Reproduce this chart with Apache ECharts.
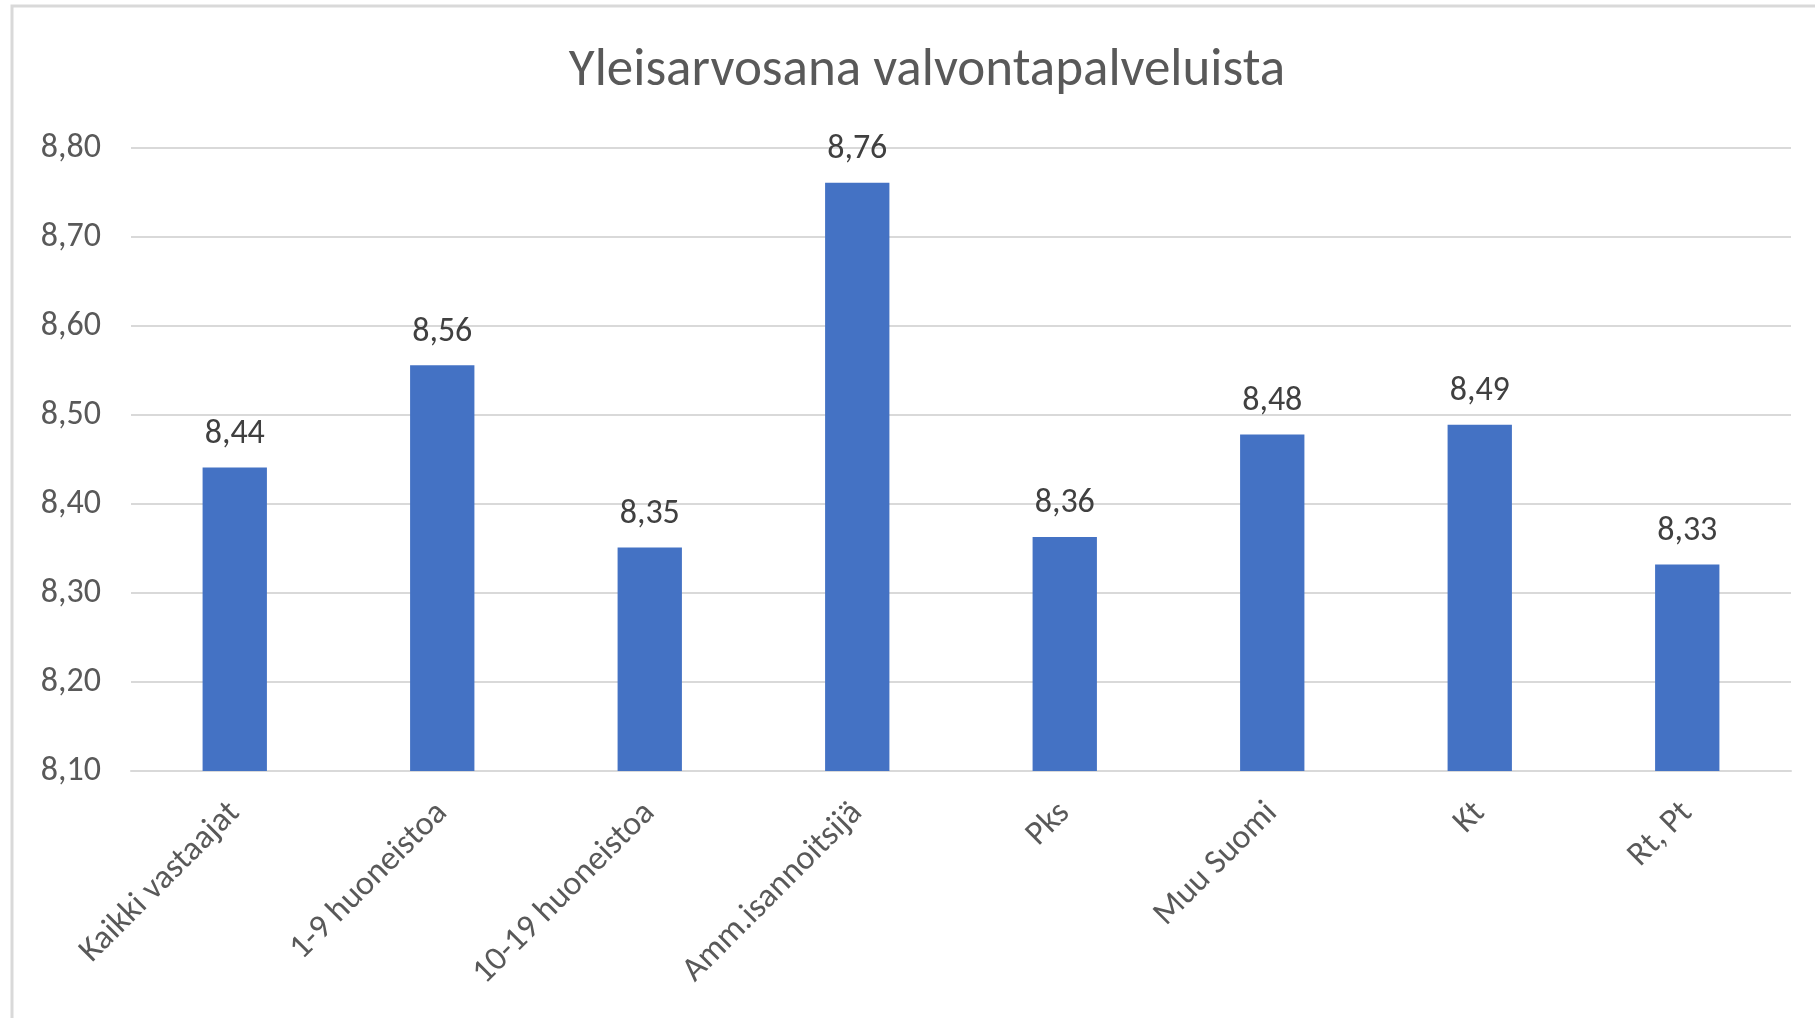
<!DOCTYPE html>
<html>
<head>
<meta charset="utf-8">
<script src="https://cdn.jsdelivr.net/npm/echarts@6/dist/echarts.min.js"></script>
<style>
html,body{margin:0;padding:0;background:#fff;}
#chart{width:1815px;height:1018px;}
</style>
</head>
<body>
<div id="chart"></div>
<script>
const titleText = 'Yleisarvosana valvontapalveluista';
const categories = ['Kaikki vastaajat','1-9 huoneistoa','10-19 huoneistoa','Amm.isannoitsijä','Pks','Muu Suomi','Kt','Rt, Pt'];
const values = [8.441, 8.556, 8.351, 8.761, 8.363, 8.478, 8.489, 8.332];
const yMin = 8.1, yMax = 8.8, yStep = 0.1;

const FONT = 'Carlito, Lato, sans-serif';
const fmt = v => v.toFixed(2).replace('.', ',');

const chart = echarts.init(document.getElementById('chart'), null, {renderer:'canvas'});
chart.setOption({
  animation:false,
  backgroundColor:'#fff',
  graphic:[{type:'rect', z:-10, shape:{x:12,y:6,width:1900,height:1100}, style:{fill:'#fff', stroke:'#d9d9d9', lineWidth:3}}],
  title:{text:titleText, left:922, textAlign:'center', top:40,
    textStyle:{fontFamily:FONT, fontSize:53, fontWeight:'normal', color:'#595959'}},
  grid:{left:131, right:24, top:148, bottom:247, containLabel:false},
  xAxis:{type:'category', data:categories,
    axisLine:{lineStyle:{color:'#d9d9d9', width:2}},
    axisTick:{show:false},
    axisLabel:{rotate:45, margin:37, fontFamily:FONT, fontSize:34, color:'#595959', interval:0}},
  yAxis:{type:'value', min:yMin, max:yMax, interval:yStep,
    axisLine:{show:false}, axisTick:{show:false},
    splitLine:{lineStyle:{color:'#d9d9d9', width:2}},
    axisLabel:{margin:30, fontFamily:FONT, fontSize:34, color:'#595959', formatter:fmt}},
  series:[{type:'bar', data:values, barWidth:'31%',
    itemStyle:{color:'#4472C4'},
    label:{show:true, position:'top', distance:16, fontFamily:FONT, fontSize:34, color:'#404040',
      formatter:p => fmt(p.value)}}]
});
</script>
</body>
</html>
